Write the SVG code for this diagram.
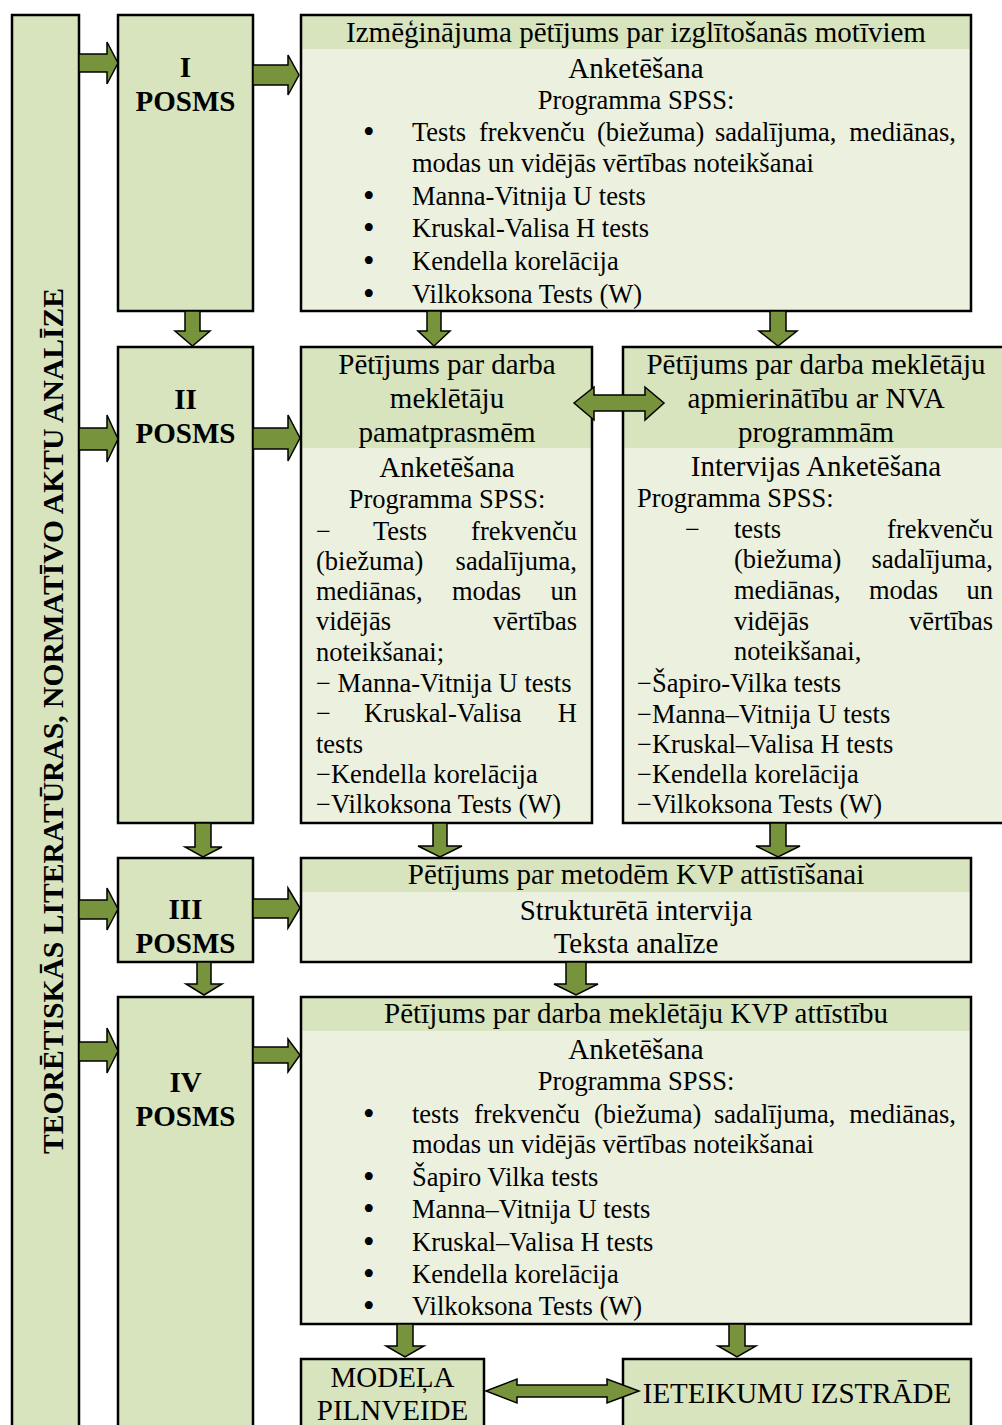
<svg xmlns="http://www.w3.org/2000/svg" width="1002" height="1425" viewBox="0 0 1002 1425">
<defs>
<style>
.bx{fill:#d7e4bd;stroke:#000;stroke-width:2.5}
.lt{fill:#ebf1de}
.hd{fill:#d7e4bd}
.ol{fill:none;stroke:#000;stroke-width:2.5}
.ar{fill:#77933c;stroke:#000;stroke-width:1.5;stroke-linejoin:miter}
text{font-family:"Liberation Serif","Times New Roman",serif;fill:#000}
.t29{font-size:29px}
.t26{font-size:26.5px}
.bd{font-size:29px;font-weight:bold}
.bl{font-size:33px}
.c{text-anchor:middle}
.e{text-anchor:end}
</style>
</defs>
<rect width="1002" height="1425" fill="#fff"/>

<g id="lit">
<rect class="bx" x="12" y="15" width="67" height="1420"/>
<text class="bd c" style="font-size:29.6px" transform="translate(63,721) rotate(-90)">TEORĒTISKĀS LITERATŪRAS, NORMATĪVO AKTU ANALĪZE</text>
</g>

<g id="posms1">
<rect class="bx" x="118" y="15" width="135" height="296"/>
<text class="bd c" x="185.5" y="77">I</text>
<text class="bd c" x="185.5" y="111">POSMS</text>
</g>
<g id="posms2">
<rect class="bx" x="118" y="347" width="135" height="476"/>
<text class="bd c" x="185.5" y="409">II</text>
<text class="bd c" x="185.5" y="443">POSMS</text>
</g>
<g id="posms3">
<rect class="bx" x="118" y="858" width="135" height="104"/>
<text class="bd c" x="185.5" y="919">III</text>
<text class="bd c" x="185.5" y="953">POSMS</text>
</g>
<g id="posms4">
<rect class="bx" x="118" y="997" width="135" height="440"/>
<text class="bd c" x="185.5" y="1092">IV</text>
<text class="bd c" x="185.5" y="1126">POSMS</text>
</g>

<g id="box1">
<rect class="lt" x="301" y="15" width="670" height="296"/>
<rect class="hd" x="301" y="15" width="670" height="34"/>
<rect class="ol" x="301" y="15" width="670" height="296"/>
<text class="t29 c" x="636" y="42">Izmēģinājuma pētījums par izglītošanās motīviem</text>
<text class="t29 c" x="636" y="78">Anketēšana</text>
<text class="t26 c" x="636" y="109">Programma SPSS:</text>
<g class="bl">
<text x="363" y="143">•</text>
<text x="363" y="207">•</text>
<text x="363" y="239">•</text>
<text x="363" y="272">•</text>
<text x="363" y="305">•</text>
</g>
<g class="t26">
<text x="412" y="141">Tests</text>
<text x="479" y="141">frekvenču</text>
<text x="597" y="141">(biežuma)</text>
<text x="715" y="141">sadalījuma,</text>
<text class="e" x="956" y="141">mediānas,</text>
<text x="412" y="172">modas un vidējās vērtības noteikšanai</text>
<text x="412" y="205">Manna-Vitnija U tests</text>
<text x="412" y="237">Kruskal-Valisa H tests</text>
<text x="412" y="270">Kendella korelācija</text>
<text x="412" y="303">Vilkoksona Tests (W)</text>
</g>
</g>

<g id="box2a">
<rect class="lt" x="301" y="347" width="291" height="476"/>
<rect class="hd" x="301" y="347" width="291" height="101"/>
<rect class="ol" x="301" y="347" width="291" height="476"/>
<text class="t29 c" x="447" y="374">Pētījums par darba</text>
<text class="t29 c" x="447" y="408">meklētāju</text>
<text class="t29 c" x="447" y="442">pamatprasmēm</text>
<text class="t29 c" x="447" y="477">Anketēšana</text>
<g class="t26">
<text class="c" x="447" y="508">Programma SPSS:</text>
<text x="316" y="540">−</text>
<text x="373" y="540">Tests</text>
<text class="e" x="577" y="540">frekvenču</text>
<text x="316" y="570">(biežuma)</text>
<text class="e" x="577" y="570">sadalījuma,</text>
<text x="316" y="600">mediānas,</text>
<text x="452" y="600">modas</text>
<text class="e" x="577" y="600">un</text>
<text x="316" y="630">vidējās</text>
<text class="e" x="577" y="630">vērtības</text>
<text x="316" y="661">noteikšanai;</text>
<text x="316" y="692">− Manna-Vitnija U tests</text>
<text x="316" y="722">−</text>
<text x="364" y="722">Kruskal-Valisa</text>
<text class="e" x="577" y="722">H</text>
<text x="316" y="753">tests</text>
<text x="316" y="783">−Kendella korelācija</text>
<text x="316" y="813">−Vilkoksona Tests (W)</text>
</g>
</g>

<g id="box2b">
<rect class="lt" x="623" y="347" width="381" height="476"/>
<rect class="hd" x="623" y="347" width="381" height="101"/>
<rect class="ol" x="623" y="347" width="381" height="476"/>
<text class="t29 c" x="816" y="374">Pētījums par darba meklētāju</text>
<text class="t29 c" x="816" y="408">apmierinātību ar NVA</text>
<text class="t29 c" x="816" y="442">programmām</text>
<text class="t29 c" x="816" y="476">Intervijas Anketēšana</text>
<g class="t26">
<text x="637" y="507">Programma SPSS:</text>
<text x="685" y="538">−</text>
<text x="734" y="538">tests</text>
<text class="e" x="993" y="538">frekvenču</text>
<text x="734" y="568">(biežuma)</text>
<text class="e" x="993" y="568">sadalījuma,</text>
<text x="734" y="599">mediānas,</text>
<text x="869" y="599">modas</text>
<text class="e" x="993" y="599">un</text>
<text x="734" y="630">vidējās</text>
<text class="e" x="993" y="630">vērtības</text>
<text x="734" y="660">noteikšanai,</text>
<text x="637" y="692">−Šapiro-Vilka tests</text>
<text x="637" y="723">−Manna–Vitnija U tests</text>
<text x="637" y="753">−Kruskal–Valisa H tests</text>
<text x="637" y="783">−Kendella korelācija</text>
<text x="637" y="813">−Vilkoksona Tests (W)</text>
</g>
</g>

<g id="box3">
<rect class="lt" x="301" y="858" width="670" height="104"/>
<rect class="hd" x="301" y="858" width="670" height="34"/>
<rect class="ol" x="301" y="858" width="670" height="104"/>
<text class="t29 c" x="636" y="884">Pētījums par metodēm KVP attīstīšanai</text>
<text class="t29 c" x="636" y="920">Strukturētā intervija</text>
<text class="t29 c" x="636" y="953">Teksta analīze</text>
</g>

<g id="box4">
<rect class="lt" x="301" y="997" width="670" height="327"/>
<rect class="hd" x="301" y="997" width="670" height="34"/>
<rect class="ol" x="301" y="997" width="670" height="327"/>
<text class="t29 c" x="636" y="1023">Pētījums par darba meklētāju KVP attīstību</text>
<text class="t29 c" x="636" y="1059">Anketēšana</text>
<text class="t26 c" x="636" y="1090">Programma SPSS:</text>
<g class="bl">
<text x="363" y="1125">•</text>
<text x="363" y="1188">•</text>
<text x="363" y="1220">•</text>
<text x="363" y="1253">•</text>
<text x="363" y="1285">•</text>
<text x="363" y="1317">•</text>
</g>
<g class="t26">
<text x="412" y="1123">tests</text>
<text x="474" y="1123">frekvenču</text>
<text x="594" y="1123">(biežuma)</text>
<text x="714" y="1123">sadalījuma,</text>
<text class="e" x="956" y="1123">mediānas,</text>
<text x="412" y="1153">modas un vidējās vērtības noteikšanai</text>
<text x="412" y="1186">Šapiro Vilka tests</text>
<text x="412" y="1218">Manna–Vitnija U tests</text>
<text x="412" y="1251">Kruskal–Valisa H tests</text>
<text x="412" y="1283">Kendella korelācija</text>
<text x="412" y="1315">Vilkoksona Tests (W)</text>
</g>
</g>

<g id="model">
<rect class="bx" x="301" y="1359" width="183" height="80"/>
<text class="t29 c" x="392.5" y="1387">MODEĻA</text>
<text class="t29 c" x="392.5" y="1420">PILNVEIDE</text>
</g>
<g id="ieteikumi">
<rect class="bx" x="623" y="1359" width="348" height="80"/>
<text class="t29 c" x="797" y="1403">IETEIKUMU IZSTRĀDE</text>
</g>

<g id="connectors">
<polygon class="ar" points="79,54 107,54 107,42 118,63 107,84 107,72 79,72"/>
<polygon class="ar" points="253,65 288,65 288,55 299,75 288,95 288,85 253,85"/>
<polygon class="ar" points="79,428 107,428 107,415 118,439 107,462 107,450 79,450"/>
<polygon class="ar" points="253,428 288,428 288,415 300,438 288,461 288,449 253,449"/>
<polygon class="ar" points="79,900 107,900 107,888 118,909 107,930 107,919 79,919"/>
<polygon class="ar" points="253,899 288,899 288,888 300,908 288,928 288,918 253,918"/>
<polygon class="ar" points="79,1042 107,1042 107,1028 118,1051 107,1073 107,1061 79,1061"/>
<polygon class="ar" points="253,1047 288,1047 288,1039 300,1055 288,1072 288,1063 253,1063"/>

<polygon class="ar" points="185,311 200,311 200,331 210,331 192.5,346 175,331 185,331"/>
<polygon class="ar" points="427,311 441,311 441,331 450,331 434,346 418,331 427,331"/>
<polygon class="ar" points="770,311 786,311 786,331 797,331 778,346 759,331 770,331"/>
<polygon class="ar" points="195,823 211,823 211,847 222,847 203,857 185,847 195,847"/>
<polygon class="ar" points="433,823 447,823 447,846 462,846 440,857 418,846 433,846"/>
<polygon class="ar" points="770,823 786,823 786,846 800,846 778,857 756,846 770,846"/>
<polygon class="ar" points="197,962 211,962 211,984 222,984 204,995 186,984 197,984"/>
<polygon class="ar" points="566,962 586,962 586,984 598,984 576,995 554,984 566,984"/>
<polygon class="ar" points="397,1324 413,1324 413,1346 424,1346 405,1357 386,1346 397,1346"/>
<polygon class="ar" points="729,1324 745,1324 745,1346 756,1346 737,1357 718,1346 729,1346"/>

<polygon class="ar" points="574,403 594,387 594,395 645,395 645,387 664,403 645,420 645,411 594,411 594,420"/>
<polygon class="ar" points="486,1391 517,1379 517,1385 607,1385 607,1379 639,1391 607,1403 607,1397 517,1397 517,1403"/>
</g>
</svg>
